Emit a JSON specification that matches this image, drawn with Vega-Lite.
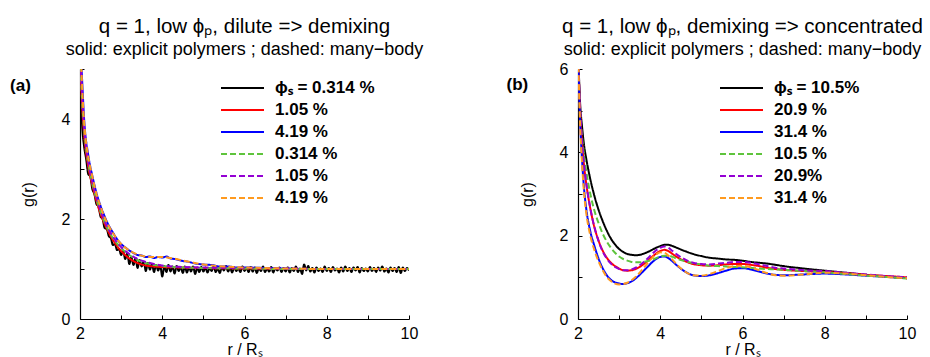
{
  "$schema": "https://vega.github.io/schema/vega-lite/v6.json",
  "background": "white",
  "padding": {"left": 10, "top": 16, "right": 5, "bottom": 0},
  "spacing": 82,
  "datasets": {
    "a": [
      {"s":"A1","r":2.0,"g":5.0},{"s":"A1","r":2.05,"g":3.9},{"s":"A1","r":2.1,"g":3.45},{"s":"A1","r":2.15,"g":3.2},{"s":"A1","r":2.2,"g":2.9},{"s":"A1","r":2.25,"g":2.85},{"s":"A1","r":2.3,"g":2.6},{"s":"A1","r":2.35,"g":2.5},{"s":"A1","r":2.4,"g":2.3},{"s":"A1","r":2.45,"g":2.25},{"s":"A1","r":2.5,"g":2.05},{"s":"A1","r":2.55,"g":2.0},{"s":"A1","r":2.6,"g":1.82},{"s":"A1","r":2.65,"g":1.8},{"s":"A1","r":2.7,"g":1.66},{"s":"A1","r":2.75,"g":1.62},{"s":"A1","r":2.8,"g":1.48},{"s":"A1","r":2.85,"g":1.5},{"s":"A1","r":2.9,"g":1.38},{"s":"A1","r":2.95,"g":1.4},{"s":"A1","r":3.0,"g":1.28},{"s":"A1","r":3.05,"g":1.36},{"s":"A1","r":3.1,"g":1.2},{"s":"A1","r":3.15,"g":1.31},{"s":"A1","r":3.2,"g":1.1},{"s":"A1","r":3.25,"g":1.24},{"s":"A1","r":3.3,"g":1.08},{"s":"A1","r":3.35,"g":1.22},{"s":"A1","r":3.4,"g":1.02},{"s":"A1","r":3.45,"g":1.18},{"s":"A1","r":3.5,"g":1.05},{"s":"A1","r":3.55,"g":1.15},{"s":"A1","r":3.6,"g":0.96},{"s":"A1","r":3.65,"g":1.12},{"s":"A1","r":3.7,"g":0.99},{"s":"A1","r":3.75,"g":1.1},{"s":"A1","r":3.8,"g":0.94},{"s":"A1","r":3.85,"g":1.08},{"s":"A1","r":3.9,"g":0.97},{"s":"A1","r":3.95,"g":1.07},{"s":"A1","r":4.0,"g":0.85},{"s":"A1","r":4.05,"g":1.06},{"s":"A1","r":4.1,"g":0.94},{"s":"A1","r":4.15,"g":1.08},{"s":"A1","r":4.2,"g":0.95},{"s":"A1","r":4.25,"g":1.05},{"s":"A1","r":4.3,"g":0.91},{"s":"A1","r":4.35,"g":1.06},{"s":"A1","r":4.4,"g":0.96},{"s":"A1","r":4.45,"g":1.04},{"s":"A1","r":4.5,"g":0.92},{"s":"A1","r":4.55,"g":1.05},{"s":"A1","r":4.6,"g":0.93},{"s":"A1","r":4.65,"g":1.03},{"s":"A1","r":4.7,"g":0.95},{"s":"A1","r":4.75,"g":1.05},{"s":"A1","r":4.8,"g":0.9},{"s":"A1","r":4.85,"g":1.03},{"s":"A1","r":4.9,"g":0.94},{"s":"A1","r":4.95,"g":1.04},
      {"s":"A1","r":5.0,"g":0.95},{"s":"A1","r":5.05,"g":1.03},{"s":"A1","r":5.1,"g":0.93},{"s":"A1","r":5.15,"g":1.02},{"s":"A1","r":5.2,"g":0.96},{"s":"A1","r":5.25,"g":1.05},{"s":"A1","r":5.3,"g":0.94},{"s":"A1","r":5.35,"g":1.01},{"s":"A1","r":5.4,"g":0.92},{"s":"A1","r":5.45,"g":1.04},{"s":"A1","r":5.5,"g":0.97},{"s":"A1","r":5.55,"g":1.06},{"s":"A1","r":5.6,"g":0.95},{"s":"A1","r":5.65,"g":1.02},{"s":"A1","r":5.7,"g":0.93},{"s":"A1","r":5.75,"g":1.03},{"s":"A1","r":5.8,"g":0.96},{"s":"A1","r":5.85,"g":1.01},{"s":"A1","r":5.9,"g":0.94},{"s":"A1","r":5.95,"g":1.05},
      {"s":"A1","r":6.0,"g":0.96},{"s":"A1","r":6.05,"g":1.02},{"s":"A1","r":6.1,"g":0.94},{"s":"A1","r":6.15,"g":1.04},{"s":"A1","r":6.2,"g":0.95},{"s":"A1","r":6.25,"g":1.03},{"s":"A1","r":6.3,"g":0.92},{"s":"A1","r":6.35,"g":1.02},{"s":"A1","r":6.4,"g":0.96},{"s":"A1","r":6.45,"g":1.05},{"s":"A1","r":6.5,"g":0.94},{"s":"A1","r":6.55,"g":1.01},{"s":"A1","r":6.6,"g":0.95},{"s":"A1","r":6.65,"g":1.04},{"s":"A1","r":6.7,"g":0.93},{"s":"A1","r":6.75,"g":1.02},{"s":"A1","r":6.8,"g":0.97},{"s":"A1","r":6.85,"g":1.03},{"s":"A1","r":6.9,"g":0.94},{"s":"A1","r":6.95,"g":1.02},
      {"s":"A1","r":7.0,"g":0.95},{"s":"A1","r":7.05,"g":1.03},{"s":"A1","r":7.1,"g":0.93},{"s":"A1","r":7.15,"g":1.02},{"s":"A1","r":7.2,"g":0.96},{"s":"A1","r":7.25,"g":1.05},{"s":"A1","r":7.3,"g":0.94},{"s":"A1","r":7.35,"g":1.01},{"s":"A1","r":7.4,"g":0.9},{"s":"A1","r":7.45,"g":1.09},{"s":"A1","r":7.5,"g":0.97},{"s":"A1","r":7.55,"g":1.06},{"s":"A1","r":7.6,"g":0.95},{"s":"A1","r":7.65,"g":1.02},{"s":"A1","r":7.7,"g":0.93},{"s":"A1","r":7.75,"g":1.03},{"s":"A1","r":7.8,"g":0.96},{"s":"A1","r":7.85,"g":1.01},{"s":"A1","r":7.9,"g":0.94},{"s":"A1","r":7.95,"g":1.05},
      {"s":"A1","r":8.0,"g":0.96},{"s":"A1","r":8.05,"g":1.02},{"s":"A1","r":8.1,"g":0.94},{"s":"A1","r":8.15,"g":1.04},{"s":"A1","r":8.2,"g":0.97},{"s":"A1","r":8.25,"g":1.01},{"s":"A1","r":8.3,"g":0.93},{"s":"A1","r":8.35,"g":1.03},{"s":"A1","r":8.4,"g":0.95},{"s":"A1","r":8.45,"g":1.05},{"s":"A1","r":8.5,"g":0.96},{"s":"A1","r":8.55,"g":1.02},{"s":"A1","r":8.6,"g":0.94},{"s":"A1","r":8.65,"g":1.03},{"s":"A1","r":8.7,"g":0.97},{"s":"A1","r":8.75,"g":1.04},{"s":"A1","r":8.8,"g":0.93},{"s":"A1","r":8.85,"g":1.02},{"s":"A1","r":8.9,"g":0.96},{"s":"A1","r":8.95,"g":1.01},
      {"s":"A1","r":9.0,"g":0.95},{"s":"A1","r":9.05,"g":1.04},{"s":"A1","r":9.1,"g":0.96},{"s":"A1","r":9.15,"g":1.02},{"s":"A1","r":9.2,"g":0.94},{"s":"A1","r":9.25,"g":1.03},{"s":"A1","r":9.3,"g":0.97},{"s":"A1","r":9.35,"g":1.05},{"s":"A1","r":9.4,"g":0.95},{"s":"A1","r":9.45,"g":1.01},{"s":"A1","r":9.5,"g":0.93},{"s":"A1","r":9.55,"g":1.03},{"s":"A1","r":9.6,"g":0.96},{"s":"A1","r":9.65,"g":1.02},{"s":"A1","r":9.7,"g":0.94},{"s":"A1","r":9.75,"g":1.04},{"s":"A1","r":9.8,"g":0.92},{"s":"A1","r":9.85,"g":1.03},{"s":"A1","r":9.9,"g":0.96},{"s":"A1","r":9.95,"g":1.02},{"s":"A1","r":10.0,"g":0.97},
      {"s":"A2","r":2.0,"g":5.3},{"s":"A2","r":2.05,"g":4.3},{"s":"A2","r":2.1,"g":3.7},{"s":"A2","r":2.2,"g":3.05},{"s":"A2","r":2.3,"g":2.68},{"s":"A2","r":2.4,"g":2.36},{"s":"A2","r":2.5,"g":2.1},{"s":"A2","r":2.6,"g":1.9},{"s":"A2","r":2.7,"g":1.73},{"s":"A2","r":2.8,"g":1.58},{"s":"A2","r":2.9,"g":1.46},{"s":"A2","r":3.0,"g":1.36},{"s":"A2","r":3.2,"g":1.21},{"s":"A2","r":3.4,"g":1.12},{"s":"A2","r":3.6,"g":1.07},{"s":"A2","r":3.8,"g":1.05},{"s":"A2","r":4.0,"g":1.04},{"s":"A2","r":4.5,"g":1.03},{"s":"A2","r":5.0,"g":1.02},{"s":"A2","r":6.0,"g":1.01},{"s":"A2","r":7.0,"g":1.0},{"s":"A2","r":8.0,"g":1.0},{"s":"A2","r":9.0,"g":1.0},{"s":"A2","r":10.0,"g":1.0},
      {"s":"A3","r":2.0,"g":5.6},{"s":"A3","r":2.05,"g":4.8},{"s":"A3","r":2.1,"g":4.0},{"s":"A3","r":2.2,"g":3.28},{"s":"A3","r":2.3,"g":2.86},{"s":"A3","r":2.4,"g":2.52},{"s":"A3","r":2.5,"g":2.26},{"s":"A3","r":2.6,"g":2.05},{"s":"A3","r":2.7,"g":1.87},{"s":"A3","r":2.8,"g":1.73},{"s":"A3","r":2.9,"g":1.6},{"s":"A3","r":3.0,"g":1.5},{"s":"A3","r":3.1,"g":1.43},{"s":"A3","r":3.2,"g":1.37},{"s":"A3","r":3.3,"g":1.32},{"s":"A3","r":3.4,"g":1.28},{"s":"A3","r":3.5,"g":1.27},{"s":"A3","r":3.6,"g":1.24},{"s":"A3","r":3.7,"g":1.25},{"s":"A3","r":3.8,"g":1.22},{"s":"A3","r":3.9,"g":1.24},{"s":"A3","r":4.0,"g":1.23},{"s":"A3","r":4.1,"g":1.25},{"s":"A3","r":4.2,"g":1.21},{"s":"A3","r":4.3,"g":1.2},{"s":"A3","r":4.4,"g":1.18},{"s":"A3","r":4.5,"g":1.16},{"s":"A3","r":4.6,"g":1.15},{"s":"A3","r":4.8,"g":1.11},{"s":"A3","r":5.0,"g":1.09},{"s":"A3","r":5.2,"g":1.08},{"s":"A3","r":5.4,"g":1.05},{"s":"A3","r":5.6,"g":1.05},{"s":"A3","r":5.8,"g":1.03},{"s":"A3","r":6.0,"g":1.03},{"s":"A3","r":6.5,"g":1.02},{"s":"A3","r":7.0,"g":1.01},{"s":"A3","r":7.5,"g":1.0},{"s":"A3","r":8.0,"g":1.0},{"s":"A3","r":9.0,"g":1.0},{"s":"A3","r":10.0,"g":1.0},
      {"s":"A4","r":2.0,"g":5.4},{"s":"A4","r":2.05,"g":4.4},{"s":"A4","r":2.1,"g":3.8},{"s":"A4","r":2.2,"g":3.12},{"s":"A4","r":2.3,"g":2.72},{"s":"A4","r":2.4,"g":2.4},{"s":"A4","r":2.5,"g":2.14},{"s":"A4","r":2.6,"g":1.93},{"s":"A4","r":2.7,"g":1.76},{"s":"A4","r":2.8,"g":1.62},{"s":"A4","r":2.9,"g":1.51},{"s":"A4","r":3.0,"g":1.42},{"s":"A4","r":3.2,"g":1.28},{"s":"A4","r":3.4,"g":1.18},{"s":"A4","r":3.6,"g":1.12},{"s":"A4","r":3.8,"g":1.08},{"s":"A4","r":4.0,"g":1.06},{"s":"A4","r":4.5,"g":1.03},{"s":"A4","r":5.0,"g":1.02},{"s":"A4","r":6.0,"g":1.01},{"s":"A4","r":7.0,"g":1.0},{"s":"A4","r":8.0,"g":1.0},{"s":"A4","r":9.0,"g":1.0},{"s":"A4","r":10.0,"g":1.0},
      {"s":"A5","r":2.0,"g":5.5},{"s":"A5","r":2.05,"g":4.5},{"s":"A5","r":2.1,"g":3.85},{"s":"A5","r":2.2,"g":3.15},{"s":"A5","r":2.3,"g":2.75},{"s":"A5","r":2.4,"g":2.43},{"s":"A5","r":2.5,"g":2.17},{"s":"A5","r":2.6,"g":1.96},{"s":"A5","r":2.7,"g":1.79},{"s":"A5","r":2.8,"g":1.65},{"s":"A5","r":2.9,"g":1.53},{"s":"A5","r":3.0,"g":1.44},{"s":"A5","r":3.2,"g":1.3},{"s":"A5","r":3.4,"g":1.2},{"s":"A5","r":3.6,"g":1.14},{"s":"A5","r":3.8,"g":1.1},{"s":"A5","r":4.0,"g":1.07},{"s":"A5","r":4.5,"g":1.04},{"s":"A5","r":5.0,"g":1.03},{"s":"A5","r":6.0,"g":1.02},{"s":"A5","r":7.0,"g":1.01},{"s":"A5","r":8.0,"g":1.0},{"s":"A5","r":9.0,"g":1.0},{"s":"A5","r":10.0,"g":1.0},
      {"s":"A6","r":2.0,"g":5.6},{"s":"A6","r":2.04,"g":4.9},{"s":"A6","r":2.08,"g":4.2},{"s":"A6","r":2.12,"g":3.75},{"s":"A6","r":2.2,"g":3.25},{"s":"A6","r":2.3,"g":2.85},{"s":"A6","r":2.4,"g":2.5},{"s":"A6","r":2.5,"g":2.25},{"s":"A6","r":2.6,"g":2.03},{"s":"A6","r":2.7,"g":1.86},{"s":"A6","r":2.8,"g":1.72},{"s":"A6","r":2.9,"g":1.6},{"s":"A6","r":3.0,"g":1.5},{"s":"A6","r":3.2,"g":1.37},{"s":"A6","r":3.4,"g":1.29},{"s":"A6","r":3.6,"g":1.25},{"s":"A6","r":3.8,"g":1.24},{"s":"A6","r":4.0,"g":1.24},{"s":"A6","r":4.2,"g":1.22},{"s":"A6","r":4.5,"g":1.17},{"s":"A6","r":5.0,"g":1.09},{"s":"A6","r":5.5,"g":1.05},{"s":"A6","r":6.0,"g":1.03},{"s":"A6","r":6.5,"g":1.02},{"s":"A6","r":7.0,"g":1.01},{"s":"A6","r":8.0,"g":1.0},{"s":"A6","r":9.0,"g":1.0},{"s":"A6","r":10.0,"g":1.0}
    ],
    "b": [
      {"s":"B1","r":2.0,"g":6.5},{"s":"B1","r":2.05,"g":5.2},{"s":"B1","r":2.1,"g":4.6},{"s":"B1","r":2.15,"g":4.15},{"s":"B1","r":2.2,"g":3.85},{"s":"B1","r":2.3,"g":3.35},{"s":"B1","r":2.4,"g":2.95},{"s":"B1","r":2.5,"g":2.62},{"s":"B1","r":2.6,"g":2.35},{"s":"B1","r":2.7,"g":2.12},{"s":"B1","r":2.8,"g":1.93},{"s":"B1","r":2.9,"g":1.79},{"s":"B1","r":3.0,"g":1.68},{"s":"B1","r":3.1,"g":1.61},{"s":"B1","r":3.2,"g":1.56},{"s":"B1","r":3.3,"g":1.54},{"s":"B1","r":3.4,"g":1.53},{"s":"B1","r":3.5,"g":1.54},{"s":"B1","r":3.6,"g":1.57},{"s":"B1","r":3.7,"g":1.61},{"s":"B1","r":3.8,"g":1.66},{"s":"B1","r":3.9,"g":1.71},{"s":"B1","r":4.0,"g":1.75},{"s":"B1","r":4.1,"g":1.78},{"s":"B1","r":4.2,"g":1.78},{"s":"B1","r":4.3,"g":1.75},{"s":"B1","r":4.4,"g":1.71},{"s":"B1","r":4.6,"g":1.63},{"s":"B1","r":4.8,"g":1.56},{"s":"B1","r":5.0,"g":1.51},{"s":"B1","r":5.2,"g":1.47},{"s":"B1","r":5.4,"g":1.45},{"s":"B1","r":5.6,"g":1.43},{"s":"B1","r":5.8,"g":1.42},{"s":"B1","r":6.0,"g":1.4},{"s":"B1","r":6.2,"g":1.37},{"s":"B1","r":6.4,"g":1.35},{"s":"B1","r":6.6,"g":1.33},{"s":"B1","r":6.8,"g":1.3},{"s":"B1","r":7.0,"g":1.27},{"s":"B1","r":7.5,"g":1.21},{"s":"B1","r":8.0,"g":1.16},{"s":"B1","r":8.5,"g":1.11},{"s":"B1","r":9.0,"g":1.06},{"s":"B1","r":9.5,"g":1.02},{"s":"B1","r":10.0,"g":0.98},
      {"s":"B2","r":2.0,"g":6.5},{"s":"B2","r":2.05,"g":5.0},{"s":"B2","r":2.1,"g":4.2},{"s":"B2","r":2.15,"g":3.65},{"s":"B2","r":2.2,"g":3.25},{"s":"B2","r":2.3,"g":2.65},{"s":"B2","r":2.4,"g":2.2},{"s":"B2","r":2.5,"g":1.88},{"s":"B2","r":2.6,"g":1.64},{"s":"B2","r":2.7,"g":1.47},{"s":"B2","r":2.8,"g":1.35},{"s":"B2","r":2.9,"g":1.27},{"s":"B2","r":3.0,"g":1.21},{"s":"B2","r":3.1,"g":1.17},{"s":"B2","r":3.2,"g":1.16},{"s":"B2","r":3.3,"g":1.17},{"s":"B2","r":3.4,"g":1.2},{"s":"B2","r":3.5,"g":1.25},{"s":"B2","r":3.6,"g":1.32},{"s":"B2","r":3.7,"g":1.4},{"s":"B2","r":3.8,"g":1.49},{"s":"B2","r":3.9,"g":1.57},{"s":"B2","r":4.0,"g":1.63},{"s":"B2","r":4.1,"g":1.66},{"s":"B2","r":4.2,"g":1.63},{"s":"B2","r":4.3,"g":1.56},{"s":"B2","r":4.4,"g":1.49},{"s":"B2","r":4.6,"g":1.39},{"s":"B2","r":4.8,"g":1.32},{"s":"B2","r":5.0,"g":1.29},{"s":"B2","r":5.2,"g":1.28},{"s":"B2","r":5.4,"g":1.29},{"s":"B2","r":5.6,"g":1.31},{"s":"B2","r":5.8,"g":1.32},{"s":"B2","r":6.0,"g":1.32},{"s":"B2","r":6.2,"g":1.3},{"s":"B2","r":6.4,"g":1.27},{"s":"B2","r":6.6,"g":1.23},{"s":"B2","r":6.8,"g":1.2},{"s":"B2","r":7.0,"g":1.18},{"s":"B2","r":7.5,"g":1.15},{"s":"B2","r":8.0,"g":1.13},{"s":"B2","r":8.5,"g":1.1},{"s":"B2","r":9.0,"g":1.06},{"s":"B2","r":9.5,"g":1.03},{"s":"B2","r":10.0,"g":1.0},
      {"s":"B3","r":2.0,"g":6.5},{"s":"B3","r":2.05,"g":4.8},{"s":"B3","r":2.1,"g":3.8},{"s":"B3","r":2.15,"g":3.1},{"s":"B3","r":2.2,"g":2.65},{"s":"B3","r":2.3,"g":2.1},{"s":"B3","r":2.4,"g":1.75},{"s":"B3","r":2.5,"g":1.45},{"s":"B3","r":2.6,"g":1.22},{"s":"B3","r":2.7,"g":1.05},{"s":"B3","r":2.8,"g":0.94},{"s":"B3","r":2.9,"g":0.88},{"s":"B3","r":3.0,"g":0.85},{"s":"B3","r":3.1,"g":0.84},{"s":"B3","r":3.2,"g":0.86},{"s":"B3","r":3.3,"g":0.9},{"s":"B3","r":3.4,"g":0.97},{"s":"B3","r":3.5,"g":1.06},{"s":"B3","r":3.6,"g":1.16},{"s":"B3","r":3.7,"g":1.26},{"s":"B3","r":3.8,"g":1.36},{"s":"B3","r":3.9,"g":1.44},{"s":"B3","r":4.0,"g":1.49},{"s":"B3","r":4.1,"g":1.5},{"s":"B3","r":4.2,"g":1.46},{"s":"B3","r":4.3,"g":1.38},{"s":"B3","r":4.4,"g":1.29},{"s":"B3","r":4.6,"g":1.14},{"s":"B3","r":4.8,"g":1.05},{"s":"B3","r":5.0,"g":1.03},{"s":"B3","r":5.2,"g":1.05},{"s":"B3","r":5.4,"g":1.1},{"s":"B3","r":5.6,"g":1.16},{"s":"B3","r":5.8,"g":1.21},{"s":"B3","r":6.0,"g":1.22},{"s":"B3","r":6.2,"g":1.19},{"s":"B3","r":6.4,"g":1.14},{"s":"B3","r":6.6,"g":1.09},{"s":"B3","r":6.8,"g":1.06},{"s":"B3","r":7.0,"g":1.05},{"s":"B3","r":7.5,"g":1.07},{"s":"B3","r":8.0,"g":1.09},{"s":"B3","r":8.5,"g":1.07},{"s":"B3","r":9.0,"g":1.04},{"s":"B3","r":9.5,"g":1.01},{"s":"B3","r":10.0,"g":0.98},
      {"s":"B4","r":2.0,"g":6.5},{"s":"B4","r":2.05,"g":5.0},{"s":"B4","r":2.1,"g":4.35},{"s":"B4","r":2.15,"g":3.9},{"s":"B4","r":2.2,"g":3.55},{"s":"B4","r":2.3,"g":3.0},{"s":"B4","r":2.4,"g":2.6},{"s":"B4","r":2.5,"g":2.3},{"s":"B4","r":2.6,"g":2.05},{"s":"B4","r":2.7,"g":1.86},{"s":"B4","r":2.8,"g":1.71},{"s":"B4","r":2.9,"g":1.59},{"s":"B4","r":3.0,"g":1.5},{"s":"B4","r":3.1,"g":1.44},{"s":"B4","r":3.2,"g":1.4},{"s":"B4","r":3.3,"g":1.37},{"s":"B4","r":3.4,"g":1.36},{"s":"B4","r":3.5,"g":1.36},{"s":"B4","r":3.6,"g":1.37},{"s":"B4","r":3.7,"g":1.39},{"s":"B4","r":3.8,"g":1.42},{"s":"B4","r":3.9,"g":1.46},{"s":"B4","r":4.0,"g":1.5},{"s":"B4","r":4.1,"g":1.52},{"s":"B4","r":4.2,"g":1.52},{"s":"B4","r":4.3,"g":1.49},{"s":"B4","r":4.4,"g":1.45},{"s":"B4","r":4.6,"g":1.39},{"s":"B4","r":4.8,"g":1.34},{"s":"B4","r":5.0,"g":1.31},{"s":"B4","r":5.2,"g":1.28},{"s":"B4","r":5.4,"g":1.27},{"s":"B4","r":5.6,"g":1.26},{"s":"B4","r":5.8,"g":1.25},{"s":"B4","r":6.0,"g":1.24},{"s":"B4","r":6.2,"g":1.23},{"s":"B4","r":6.4,"g":1.21},{"s":"B4","r":6.6,"g":1.2},{"s":"B4","r":6.8,"g":1.19},{"s":"B4","r":7.0,"g":1.18},{"s":"B4","r":7.5,"g":1.15},{"s":"B4","r":8.0,"g":1.12},{"s":"B4","r":8.5,"g":1.08},{"s":"B4","r":9.0,"g":1.04},{"s":"B4","r":9.5,"g":1.01},{"s":"B4","r":10.0,"g":0.97},
      {"s":"B5","r":2.0,"g":6.5},{"s":"B5","r":2.05,"g":5.1},{"s":"B5","r":2.1,"g":4.25},{"s":"B5","r":2.15,"g":3.7},{"s":"B5","r":2.2,"g":3.28},{"s":"B5","r":2.3,"g":2.66},{"s":"B5","r":2.4,"g":2.2},{"s":"B5","r":2.5,"g":1.87},{"s":"B5","r":2.6,"g":1.62},{"s":"B5","r":2.7,"g":1.45},{"s":"B5","r":2.8,"g":1.33},{"s":"B5","r":2.9,"g":1.25},{"s":"B5","r":3.0,"g":1.2},{"s":"B5","r":3.1,"g":1.17},{"s":"B5","r":3.2,"g":1.17},{"s":"B5","r":3.3,"g":1.19},{"s":"B5","r":3.4,"g":1.23},{"s":"B5","r":3.5,"g":1.29},{"s":"B5","r":3.6,"g":1.37},{"s":"B5","r":3.7,"g":1.46},{"s":"B5","r":3.8,"g":1.56},{"s":"B5","r":3.9,"g":1.65},{"s":"B5","r":4.0,"g":1.71},{"s":"B5","r":4.1,"g":1.74},{"s":"B5","r":4.2,"g":1.71},{"s":"B5","r":4.3,"g":1.63},{"s":"B5","r":4.4,"g":1.55},{"s":"B5","r":4.6,"g":1.43},{"s":"B5","r":4.8,"g":1.35},{"s":"B5","r":5.0,"g":1.32},{"s":"B5","r":5.2,"g":1.31},{"s":"B5","r":5.4,"g":1.33},{"s":"B5","r":5.6,"g":1.35},{"s":"B5","r":5.8,"g":1.37},{"s":"B5","r":6.0,"g":1.37},{"s":"B5","r":6.2,"g":1.35},{"s":"B5","r":6.4,"g":1.31},{"s":"B5","r":6.6,"g":1.27},{"s":"B5","r":6.8,"g":1.23},{"s":"B5","r":7.0,"g":1.21},{"s":"B5","r":7.5,"g":1.17},{"s":"B5","r":8.0,"g":1.15},{"s":"B5","r":8.5,"g":1.11},{"s":"B5","r":9.0,"g":1.07},{"s":"B5","r":9.5,"g":1.03},{"s":"B5","r":10.0,"g":1.0},
      {"s":"B6","r":2.0,"g":6.5},{"s":"B6","r":2.05,"g":4.7},{"s":"B6","r":2.1,"g":3.7},{"s":"B6","r":2.15,"g":3.0},{"s":"B6","r":2.2,"g":2.55},{"s":"B6","r":2.3,"g":2.0},{"s":"B6","r":2.4,"g":1.65},{"s":"B6","r":2.5,"g":1.38},{"s":"B6","r":2.6,"g":1.17},{"s":"B6","r":2.7,"g":1.01},{"s":"B6","r":2.8,"g":0.91},{"s":"B6","r":2.9,"g":0.85},{"s":"B6","r":3.0,"g":0.83},{"s":"B6","r":3.1,"g":0.84},{"s":"B6","r":3.2,"g":0.87},{"s":"B6","r":3.3,"g":0.93},{"s":"B6","r":3.4,"g":1.01},{"s":"B6","r":3.5,"g":1.11},{"s":"B6","r":3.6,"g":1.23},{"s":"B6","r":3.7,"g":1.35},{"s":"B6","r":3.8,"g":1.46},{"s":"B6","r":3.9,"g":1.55},{"s":"B6","r":4.0,"g":1.6},{"s":"B6","r":4.1,"g":1.59},{"s":"B6","r":4.2,"g":1.52},{"s":"B6","r":4.3,"g":1.42},{"s":"B6","r":4.4,"g":1.31},{"s":"B6","r":4.6,"g":1.14},{"s":"B6","r":4.8,"g":1.05},{"s":"B6","r":5.0,"g":1.04},{"s":"B6","r":5.2,"g":1.08},{"s":"B6","r":5.4,"g":1.15},{"s":"B6","r":5.6,"g":1.22},{"s":"B6","r":5.8,"g":1.27},{"s":"B6","r":6.0,"g":1.28},{"s":"B6","r":6.2,"g":1.24},{"s":"B6","r":6.4,"g":1.17},{"s":"B6","r":6.6,"g":1.1},{"s":"B6","r":6.8,"g":1.05},{"s":"B6","r":7.0,"g":1.04},{"s":"B6","r":7.5,"g":1.07},{"s":"B6","r":8.0,"g":1.11},{"s":"B6","r":8.5,"g":1.09},{"s":"B6","r":9.0,"g":1.05},{"s":"B6","r":9.5,"g":1.01},{"s":"B6","r":10.0,"g":0.98}
    ]
  },
  "resolve": {"scale": {"color": "independent", "strokeDash": "independent"}, "legend": {"color": "independent", "strokeDash": "independent"}},
  "hconcat": [
    {
      "width": 329,
      "height": 250,
      "title": {"text": "q = 1, low ϕₚ, dilute => demixing", "subtitle": "solid: explicit polymers ; dashed: many−body"},
      "layer": [
        {
          "data": {"name": "a"},
          "mark": {"type": "line", "clip": true, "strokeWidth": 2, "interpolate": "monotone"},
          "encoding": {
            "x": {"field": "r", "type": "quantitative", "scale": {"domain": [2, 10], "nice": false, "zero": false},
              "axis": {"title": "r / Rₛ", "values": [2,3,4,5,6,7,8,9,10], "labelExpr": "datum.value % 2 === 0 ? datum.label : ''", "labelPadding": 10, "titlePadding": 0}},
            "y": {"field": "g", "type": "quantitative", "scale": {"domain": [0, 5], "nice": false},
              "axis": {"title": "g(r)", "values": [0,0.5,1,1.5,2,2.5,3,3.5,4,4.5,5], "labelExpr": "datum.value % 2 === 0 ? datum.label : ''", "labelPadding": 14, "titlePadding": 25}},
            "color": {"field": "s", "type": "nominal", "scale": {"domain": ["A1","A2","A3","A4","A5","A6"], "range": ["#000000","#ff0000","#0000ff","#5ec43c","#9400d3","#ff9a1f"]},
              "legend": {"orient": "none", "legendX": 140, "legendY": 8, "title": null, "labelExpr": "{'A1':'ϕₛ = 0.314 %','A2':'1.05 %','A3':'4.19 %','A4':'0.314 %','A5':'1.05 %','A6':'4.19 %'}[datum.value]"}},
            "strokeDash": {"field": "s", "type": "nominal", "scale": {"domain": ["A1","A2","A3","A4","A5","A6"], "range": [[1,0],[1,0],[1,0],[6,3],[6,3],[6,3]]},
              "legend": {"orient": "none", "legendX": 140, "legendY": 8, "title": null, "labelExpr": "{'A1':'ϕₛ = 0.314 %','A2':'1.05 %','A3':'4.19 %','A4':'0.314 %','A5':'1.05 %','A6':'4.19 %'}[datum.value]"}}
          }
        },
        {
          "data": {"values": [{"lab": "(a)"}]},
          "mark": {"type": "text", "align": "left", "baseline": "middle", "font": "Liberation Sans", "fontSize": 17, "fontWeight": "bold", "color": "black"},
          "encoding": {"x": {"datum": 0.3}, "y": {"datum": 4.67}, "text": {"field": "lab"}}
        }
      ]
    },
    {
      "width": 329,
      "height": 250,
      "title": {"text": "q = 1, low ϕₚ, demixing => concentrated", "subtitle": "solid: explicit polymers ; dashed: many−body"},
      "layer": [
        {
          "data": {"name": "b"},
          "mark": {"type": "line", "clip": true, "strokeWidth": 2, "interpolate": "monotone"},
          "encoding": {
            "x": {"field": "r", "type": "quantitative", "scale": {"domain": [2, 10], "nice": false, "zero": false},
              "axis": {"title": "r / Rₛ", "values": [2,3,4,5,6,7,8,9,10], "labelExpr": "datum.value % 2 === 0 ? datum.label : ''", "labelPadding": 10, "titlePadding": 0}},
            "y": {"field": "g", "type": "quantitative", "scale": {"domain": [0, 6], "nice": false},
              "axis": {"title": "g(r)", "values": [0,1,2,3,4,5,6], "labelExpr": "datum.value % 2 === 0 ? datum.label : ''", "labelPadding": 14, "titlePadding": 24}},
            "color": {"field": "s", "type": "nominal", "scale": {"domain": ["B1","B2","B3","B4","B5","B6"], "range": ["#000000","#ff0000","#0000ff","#5ec43c","#9400d3","#ff9a1f"]},
              "legend": {"orient": "none", "legendX": 141, "legendY": 8, "title": null, "labelExpr": "{'B1':'ϕₛ = 10.5%','B2':'20.9 %','B3':'31.4 %','B4':'10.5 %','B5':'20.9%','B6':'31.4 %'}[datum.value]"}},
            "strokeDash": {"field": "s", "type": "nominal", "scale": {"domain": ["B1","B2","B3","B4","B5","B6"], "range": [[1,0],[1,0],[1,0],[6,3],[6,3],[6,3]]},
              "legend": {"orient": "none", "legendX": 141, "legendY": 8, "title": null, "labelExpr": "{'B1':'ϕₛ = 10.5%','B2':'20.9 %','B3':'31.4 %','B4':'10.5 %','B5':'20.9%','B6':'31.4 %'}[datum.value]"}}
          }
        },
        {
          "data": {"values": [{"lab": "(b)"}]},
          "mark": {"type": "text", "align": "left", "baseline": "middle", "font": "Liberation Sans", "fontSize": 17, "fontWeight": "bold", "color": "black"},
          "encoding": {"x": {"datum": 0.263}, "y": {"datum": 5.61}, "text": {"field": "lab"}}
        }
      ]
    }
  ],
  "config": {
    "view": {"stroke": null},
    "font": "Liberation Sans",
    "title": {"font": "Liberation Sans", "fontSize": 20.5, "fontWeight": "normal", "color": "black", "subtitleFont": "Liberation Sans", "subtitleFontSize": 18, "subtitleColor": "black", "subtitlePadding": 4, "offset": 2, "anchor": "middle"},
    "axis": {"grid": false, "domainColor": "black", "domainWidth": 1.2, "tickColor": "black", "tickSize": -4, "labelColor": "black", "titleColor": "black", "labelFont": "Liberation Sans", "titleFont": "Liberation Sans", "labelFontSize": 16, "titleFontSize": 16, "titleFontWeight": "normal", "labelFlush": false, "labelOverlap": false, "labelBound": false},
    "legend": {"symbolType": "stroke", "symbolSize": 1849, "symbolStrokeWidth": 2, "clipHeight": 22, "labelFont": "Liberation Sans", "labelFontSize": 17, "labelFontWeight": "bold", "labelColor": "black", "labelOffset": 10, "rowPadding": 0, "padding": 0}
  }
}
